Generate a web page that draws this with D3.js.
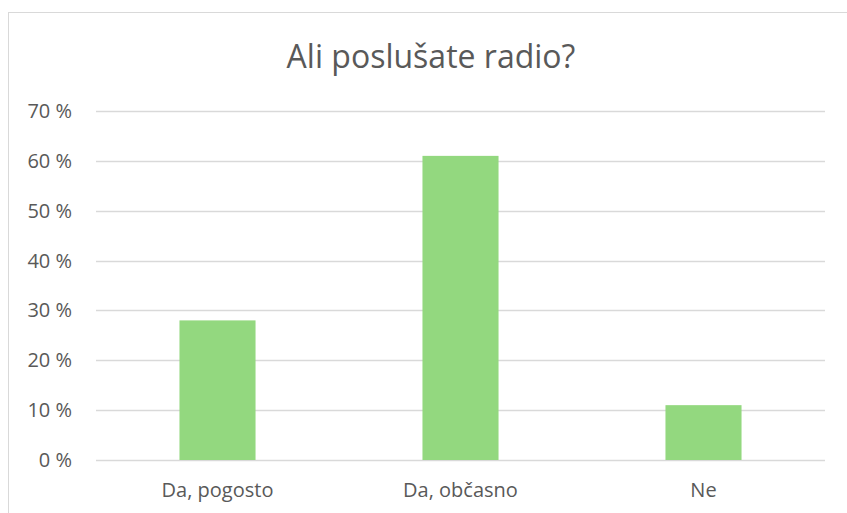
<!DOCTYPE html>
<html>
<head>
<meta charset="utf-8">
<script src="https://cdn.jsdelivr.net/npm/d3@7"></script>
<style>
  body { margin: 0; background: #fff; }
  svg { display: block; font-family: "Open Sans", "Noto Sans", sans-serif; }
</style>
</head>
<body>
<svg id="chart" width="847" height="513"></svg>
<script>
// Chart data
const categories = ["Da, pogosto", "Da, občasno", "Ne"];
const values = [28, 61, 11];
const yTicks = [0, 10, 20, 30, 40, 50, 60, 70];
const title = "Ali poslušate radio?";

const svg = d3.select("#chart");
const margin = { top: 111, right: 22, bottom: 53, left: 96 };
const width = 847, height = 513;

// chart frame
svg.append("rect")
  .attr("x", 8.5).attr("y", 12.5)
  .attr("width", 846).attr("height", 520)
  .attr("fill", "none")
  .attr("stroke", "#d9d9d9");

const x = d3.scaleBand()
  .domain(categories)
  .range([margin.left, width - margin.right])
  .padding(0);

const y = d3.scaleLinear()
  .domain([0, 70])
  .range([height - margin.bottom, margin.top]);

// gridlines
svg.append("g")
  .selectAll("line")
  .data(yTicks)
  .join("line")
  .attr("x1", margin.left)
  .attr("x2", width - margin.right)
  .attr("y1", (d) => Math.round(y(d)) + 0.5)
  .attr("y2", (d) => Math.round(y(d)) + 0.5)
  .attr("stroke", "#d9d9d9")
  .attr("stroke-width", 1.3);

// y tick labels
svg.append("g")
  .selectAll("text")
  .data(yTicks)
  .join("text")
  .attr("x", 72)
  .attr("y", (d) => y(d))
  .attr("dy", "0.35em")
  .attr("text-anchor", "end")
  .attr("font-size", "20px")
  .attr("fill", "#595959")
  .text((d) => d + " %");

// bars
const barW = x.bandwidth() * 0.313;
svg.append("g")
  .selectAll("rect")
  .data(values)
  .join("rect")
  .attr("x", (d, i) => x(categories[i]) + (x.bandwidth() - barW) / 2)
  .attr("y", (d) => y(d))
  .attr("width", barW)
  .attr("height", (d) => y(0) - y(d))
  .attr("fill", "#93d87f");

// x labels
svg.append("g")
  .selectAll("text")
  .data(categories)
  .join("text")
  .attr("x", (d) => x(d) + x.bandwidth() / 2)
  .attr("y", 497)
  .attr("text-anchor", "middle")
  .attr("font-size", "20px")
  .attr("fill", "#595959")
  .text((d) => d);

// title
svg.append("text")
  .attr("x", 431)
  .attr("y", 68)
  .attr("text-anchor", "middle")
  .attr("font-size", "32px")
  .attr("fill", "#595959")
  .text(title);
</script>
</body>
</html>
